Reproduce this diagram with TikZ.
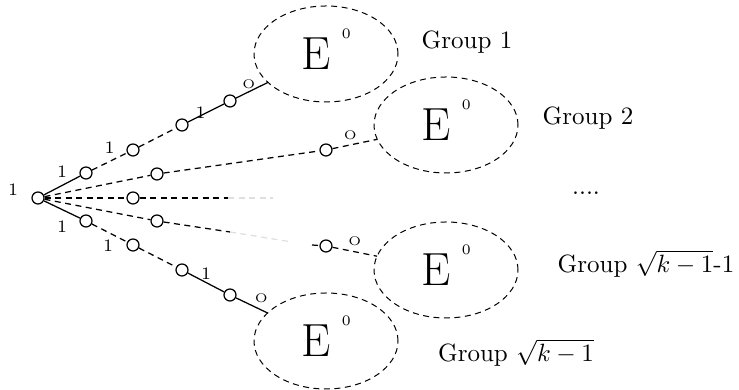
\documentclass[tikz,border=0pt]{standalone}
\usepackage{fontspec}
\usetikzlibrary{shapes.geometric}
\tikzset{
  bit/.style={circle, draw, line width=0.5pt, minimum size=4.8pt, inner sep=0pt},
  grp/.style={ellipse, draw, line width=0.4pt, dash pattern=on 2.4pt off 1.8pt, minimum width=57.6pt, minimum height=38.4pt, inner sep=0pt, outer sep=0pt},
  solidedge/.style={line width=0.5pt},
  dashedge/.style={line width=0.5pt, dash pattern=on 2.4pt off 1.8pt},
  fadeedge/.style={dashedge, gray!25},
  lbl/.style={font=\scriptsize, inner sep=1pt},
  olbl/.style={font=\tiny, inner sep=1pt},
}
\newcommand{\Ezero}{{\fontsize{18.6}{22}\selectfont E}\hspace{4.5pt}\smash{\raisebox{12.6pt}{\fontsize{5.8}{6}\selectfont 0}}}

\begin{document}
\begin{tikzpicture}[x=0.4pt, y=-0.4pt]
    \useasboundingbox (0,0) rectangle (739,390);

    \node[bit] (r) at (38,198) {};
    \node[lbl] (rl) at (13,190) {1};

    % groups
    \node[grp] (e1) at (326,54) {\Ezero};
    \node[grp] (e2) at (446,125) {\Ezero};
    \node[grp] (e3) at (446,270) {\Ezero};
    \node[grp] (e4) at (326,341) {\Ezero};
    \node (g1) at (467,42) {Group 1};
    \node (g2) at (588,118) {Group 2};
    \node (g3) at (646,264) {Group $\sqrt{k-1}$-1};
    \node (g4) at (516,353) {Group $\sqrt{k-1}$};
    \node (dots) at (586,193) {....};

    % bits
    \node[bit] (a1) at (86,173) {};
    \node[bit] (a2) at (133,150) {};
    \node[bit] (a3) at (182,125) {};
    \node[bit] (a4) at (230,101) {};
    \node[bit] (b1) at (157,174) {};
    \node[bit] (b2) at (326,150) {};
    \node[bit] (c1) at (133,198) {};
    \coordinate (c2) at (228,198);
    \coordinate (c3) at (273,198);
    \node[bit] (d1) at (157,221) {};
    \coordinate (d2) at (230,232);
    \coordinate (d3) at (292,242);
    \coordinate (d4) at (312,245);
    \node[bit] (d5) at (326,246) {};
    \node[bit] (f1) at (86,221) {};
    \node[bit] (f2) at (133,245) {};
    \node[bit] (f3) at (182,270) {};
    \node[bit] (f4) at (230,295) {};

    % top branch
    \draw[solidedge] (r) -- node[lbl, above=2pt] {1} (a1);
    \draw[dashedge] (a1) -- node[lbl, above=2pt] {1} (a2);
    \draw[dashedge] (a2) -- (a3);
    \draw[solidedge] (a3) -- node[lbl, pos=0.35, yshift=1.4pt] {1} (a4);
    \draw[solidedge] (a4) -- node[olbl, pos=0.4, above=0pt] {O} (e1);

    % second branch
    \draw[dashedge] (r) -- (b1);
    \draw[dashedge] (b1) -- (b2);
    \draw[dashedge] (b2) -- node[olbl, pos=0.4, above=1pt] {O} (e2);

    % middle
    \draw[dashedge] (r) -- (c1);
    \draw[dashedge] (c1) -- (c2);
    \draw[fadeedge] (c2) -- (c3);

    % fourth branch
    \draw[dashedge] (r) -- (d1);
    \draw[dashedge] (d1) -- (d2);
    \draw[fadeedge] (d2) -- (d3);
    \draw[dashedge] (d4) -- (d5);
    \draw[dashedge] (d5) -- node[olbl, above=1pt] {O} (e3);

    % bottom branch
    \draw[solidedge] (r) -- node[lbl, below=3.5pt] {1} (f1);
    \draw[dashedge] (f1) -- node[lbl, below=1.5pt, xshift=-0.6pt] {1} (f2);
    \draw[dashedge] (f2) -- (f3);
    \draw[solidedge] (f3) -- node[lbl, above=0pt] {1} (f4);
    \draw[solidedge] (f4) -- node[olbl, above right=0pt] {O} (e4);
\end{tikzpicture}
\end{document}
